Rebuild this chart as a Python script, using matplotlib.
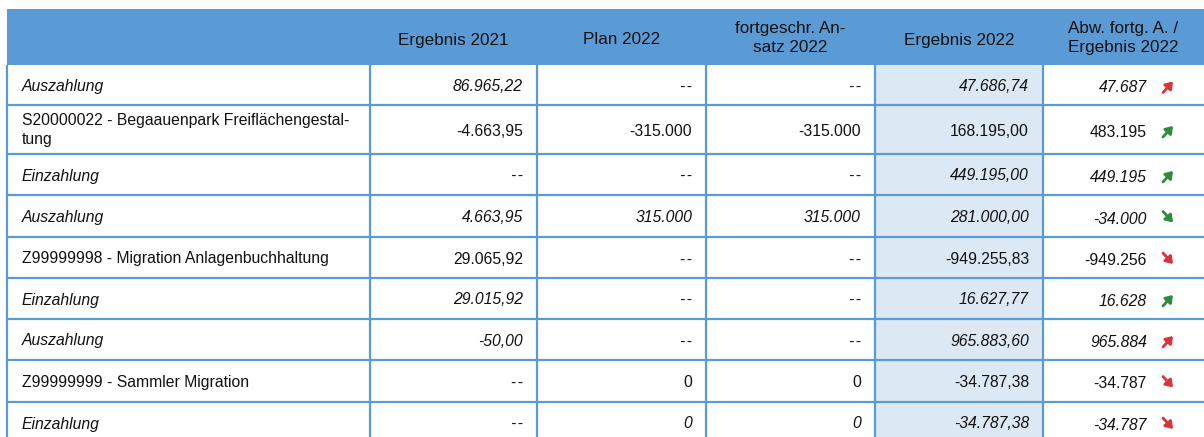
import matplotlib.pyplot as plt
from matplotlib.patches import Rectangle

plt.rcParams['font.family'] = ['Liberation Sans', 'DejaVu Sans']

# ---- table data ----
headers = ["", "Ergebnis 2021", "Plan 2022", "fortgeschr. An-\nsatz 2022",
           "Ergebnis 2022", "Abw. fortg. A. /\nErgebnis 2022"]
labels = ["Auszahlung",
          "S20000022 - Begaauenpark Freiflächengestal-\ntung",
          "Einzahlung", "Auszahlung",
          "Z99999998 - Migration Anlagenbuchhaltung",
          "Einzahlung", "Auszahlung",
          "Z99999999 - Sammler Migration",
          "Einzahlung"]
italic = [True, False, True, True, False, True, True, False, True]
erg_2021 = ["86.965,22", "-4.663,95", "--", "4.663,95", "29.065,92", "29.015,92", "-50,00", "--", "--"]
plan_2022 = ["--", "-315.000", "--", "315.000", "--", "--", "--", "0", "0"]
fortg_2022 = ["--", "-315.000", "--", "315.000", "--", "--", "--", "0", "0"]
erg_2022 = ["47.686,74", "168.195,00", "449.195,00", "281.000,00", "-949.255,83",
            "16.627,77", "965.883,60", "-34.787,38", "-34.787,38"]
abw = ["47.687", "483.195", "449.195", "-34.000", "-949.256", "16.628", "965.884", "-34.787", "-34.787"]
trend_up = [True, True, True, False, False, True, True, False, False]
trend_good = [False, True, True, True, False, True, False, False, False]

# ---- layout (pixels) ----
W, H = 1204, 437
col_edges = [7, 370, 537, 706, 875, 1043, 1204]
row_edges = [9, 65, 105, 154, 195, 237, 278, 319, 360, 402, 443]
head_blue = '#5B9BD5'
line_blue = '#5B9BD5'
hl_blue = '#DDE8F5'
red = '#D9343A'
green = '#2E8B3A'


def cell_txt(s):
    # the two dashes touch in Liberation Sans, put a tiny space between them
    return s.replace('--', '-\u200a-')


fig = plt.figure(figsize=(W / 100, H / 100), dpi=100)
ax = fig.add_axes([0, 0, 1, 1])
ax.set_xlim(0, W)
ax.set_ylim(H, 0)
ax.axis('off')

# header
ax.add_patch(Rectangle((col_edges[0], row_edges[0]), W - col_edges[0], row_edges[1] - row_edges[0],
                       color=head_blue, lw=0))
for j, h in enumerate(headers):
    if h:
        yoff = 1 if '\n' in h else 3
        ax.text((col_edges[j] + col_edges[j + 1]) / 2, (row_edges[0] + row_edges[1]) / 2 + yoff, h,
                ha='center', va='center', fontsize=12.3, color='#111111', linespacing=1.35)

# highlighted column
ax.add_patch(Rectangle((col_edges[4], row_edges[1]), col_edges[5] - col_edges[4],
                       row_edges[-1] - row_edges[1], color=hl_blue, lw=0))

# grid lines
for y in row_edges[2:-1]:
    ax.plot([col_edges[0], W], [y, y], color=line_blue, lw=1.6, solid_capstyle='butt')
for x in col_edges[:-1]:
    ax.plot([x, x], [row_edges[1], H], color=line_blue, lw=1.6, solid_capstyle='butt')

# body
cols = [erg_2021, plan_2022, fortg_2022, erg_2022]
for i in range(len(labels)):
    yc = (row_edges[i + 1] + row_edges[i + 2]) / 2 + 1.5
    style = 'italic' if italic[i] else 'normal'
    ly = yc - 1 if '\n' in labels[i] else yc
    ax.text(col_edges[0] + 15, ly, labels[i], ha='left', va='center', fontsize=11.3,
            style=style, color='#111111', linespacing=1.4)
    for j, vals in enumerate(cols):
        ax.text(col_edges[j + 2] - 14, yc, cell_txt(vals[i]), ha='right', va='center', fontsize=11.3,
                style=style, color='#111111')
    ax.text(1147, yc + 1.5, abw[i], ha='right', va='center', fontsize=11.3,
            style=style, color='#111111')
    c = green if trend_good[i] else red
    if trend_up[i]:
        start, end = (1163, yc + 6), (1173, yc - 5)
    else:
        start, end = (1163, yc - 6), (1173, yc + 5)
    ax.annotate('', xy=end, xytext=start,
                arrowprops=dict(arrowstyle='-|>,head_length=0.4,head_width=0.28',
                                color=c, lw=2.0, shrinkA=0, shrinkB=0))

fig.savefig('out.png', dpi=100)
